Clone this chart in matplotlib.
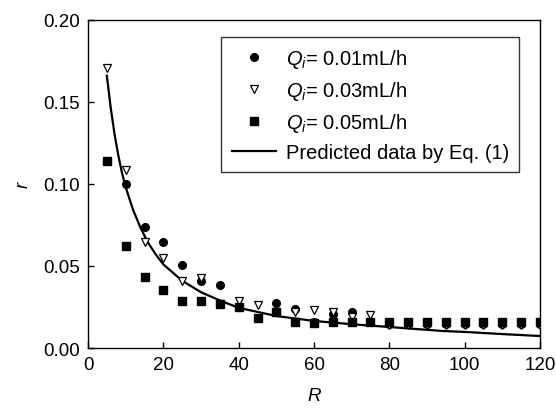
import numpy as np
import matplotlib.pyplot as plt

plt.rcParams['font.family'] = ['Liberation Sans', 'DejaVu Sans']
plt.rcParams['mathtext.fontset'] = 'custom'
plt.rcParams['mathtext.rm'] = 'Liberation Sans'
plt.rcParams['mathtext.it'] = 'Liberation Sans:italic'

# data
R_q1 = [10, 15, 20, 25, 30, 35, 40, 45, 50, 55, 60, 65, 70, 75,
        80, 85, 90, 95, 100, 105, 110, 115, 120]
r_q1 = [0.100, 0.0738, 0.0646, 0.0506, 0.041, 0.0384, 0.025, 0.018, 0.0274, 0.0238,
        0.016, 0.021, 0.022, 0.016,
        0.0145, 0.0145, 0.0145, 0.0145, 0.0145, 0.0145, 0.0145, 0.0145, 0.0145]

R_q3 = [5, 10, 15, 20, 25, 30, 35, 40, 45, 50, 55, 60, 65, 70, 75,
        80, 85, 90, 95, 100, 105, 110, 115, 120]
r_q3 = [0.171, 0.1085, 0.0646, 0.055, 0.041, 0.0427, 0.027, 0.0287, 0.026, 0.022, 0.022,
        0.0232, 0.022, 0.019, 0.020,
        0.014, 0.014, 0.014, 0.014, 0.014, 0.014, 0.014, 0.014, 0.014]

R_q5 = [5, 10, 15, 20, 25, 30, 35, 40, 45, 50, 55, 60, 65, 70, 75,
        80, 85, 90, 95, 100, 105, 110, 115, 120]
r_q5 = [0.114, 0.062, 0.043, 0.0354, 0.0287, 0.0287, 0.0268, 0.025, 0.018, 0.022, 0.016,
        0.015, 0.016, 0.016, 0.016,
        0.016, 0.016, 0.016, 0.016, 0.016, 0.016, 0.016, 0.016, 0.016]

# predicted curve, Eq. (1)
R_pred = [5, 6, 7, 8, 9, 10, 12, 14, 16, 18, 20, 25, 30, 35, 40, 50, 56, 60, 70, 80,
          94, 100, 110, 120]
r_pred = [0.166, 0.147, 0.131, 0.118, 0.107, 0.098, 0.084, 0.073, 0.064, 0.057, 0.051,
          0.041, 0.034, 0.029, 0.0245, 0.0195, 0.0177, 0.0165, 0.0145, 0.0128, 0.0104,
          0.0098, 0.0085, 0.0073]

labels = [r'$Q_i$= 0.01mL/h', r'$Q_i$= 0.03mL/h', r'$Q_i$= 0.05mL/h',
          'Predicted data by Eq. (1)']

fig = plt.figure(figsize=(5.56, 4.14), dpi=100)
ax = fig.add_axes([0.1583, 0.157, 0.8129, 0.7923])

ax.plot(R_q1, r_q1, 'o', color='black', markersize=5.5, label=labels[0], zorder=3)
ax.plot(R_q3, r_q3, 'v', markerfacecolor='white', markeredgecolor='black',
        markersize=6, markeredgewidth=0.9, label=labels[1], zorder=4)
ax.plot(R_q5, r_q5, 's', color='black', markersize=5.5, label=labels[2], zorder=5)
ax.plot(R_pred, r_pred, '-', color='black', linewidth=1.6, label=labels[3], zorder=2)

ax.set_xlim(0, 120)
ax.set_ylim(0, 0.20)
ax.set_xticks(np.arange(0, 121, 20))
ax.set_yticks(np.arange(0, 0.201, 0.05))
ax.set_yticklabels(['0.00', '0.05', '0.10', '0.15', '0.20'])
ax.tick_params(direction='in', length=4, width=1, labelsize=13.5, pad=6)
for s in ax.spines.values():
    s.set_linewidth(1.0)

ax.set_xlabel('R', fontsize=13.5, style='italic', labelpad=10)
ax.set_ylabel('r', fontsize=13.5, style='italic', labelpad=8)

leg = ax.legend(loc='upper right', bbox_to_anchor=(0.954, 0.948), borderaxespad=0,
                fontsize=14.5, frameon=True, fancybox=False, edgecolor='black',
                handlelength=2.2, labelspacing=0.45, borderpad=0.5, handletextpad=0.5)
leg.get_frame().set_linewidth(1.0)

fig.savefig('out.png', dpi=100)
